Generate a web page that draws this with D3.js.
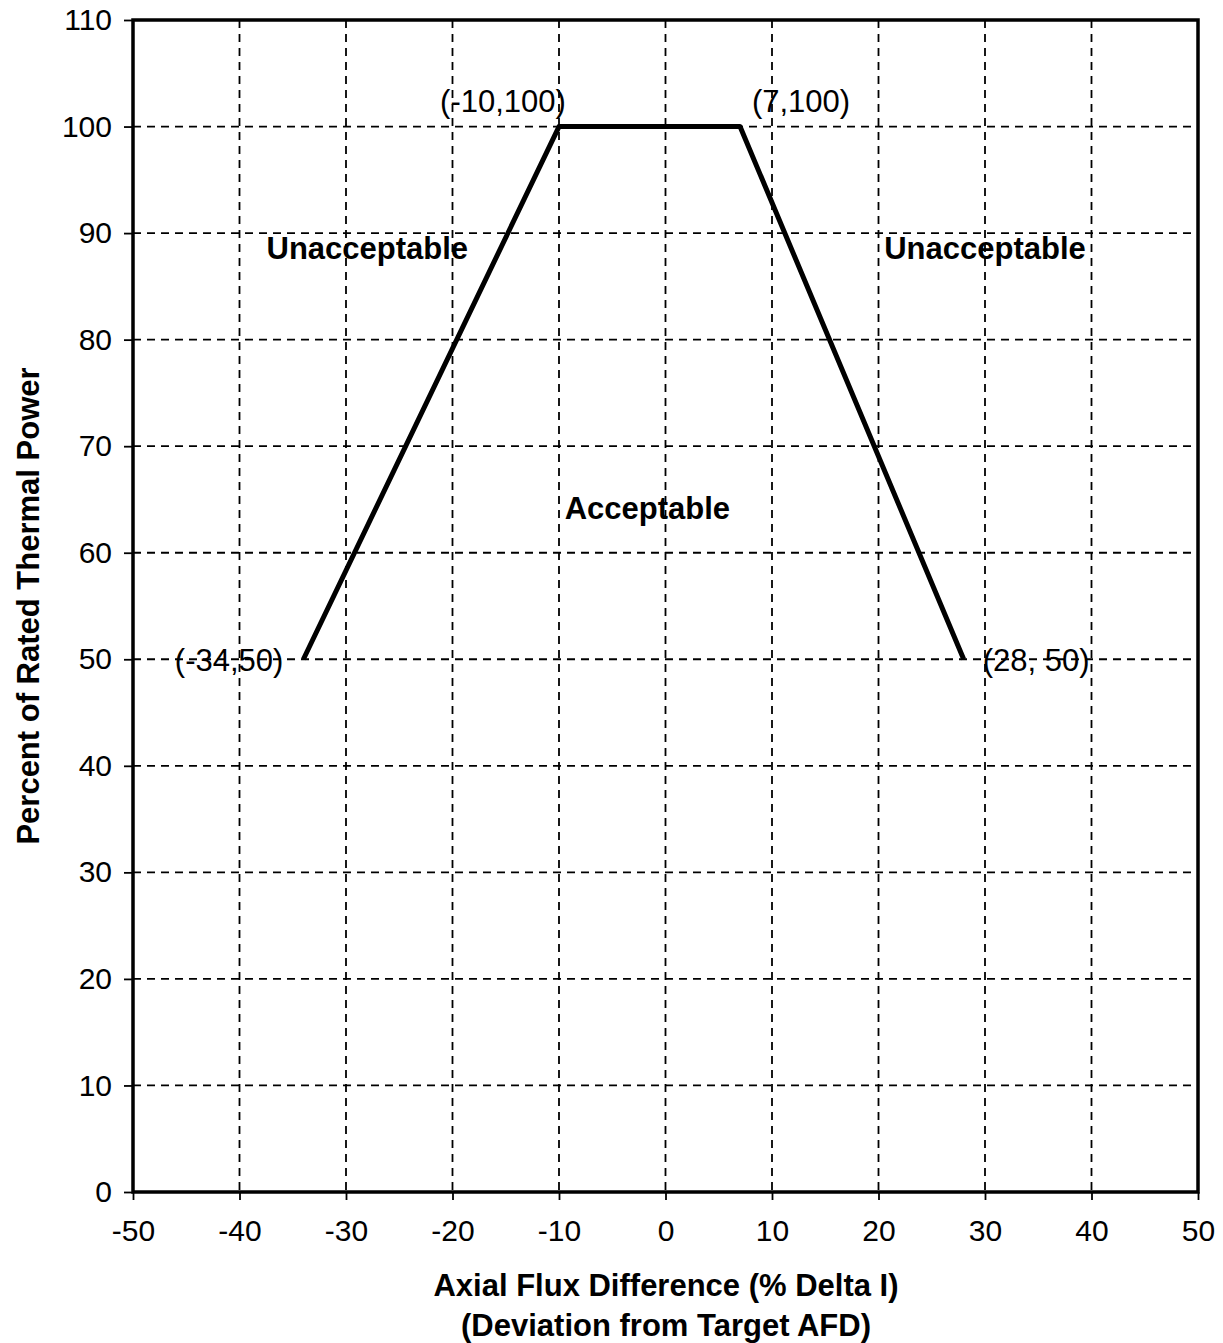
<!DOCTYPE html>
<html><head><meta charset="utf-8">
<script src="https://cdn.jsdelivr.net/npm/d3@7"></script>
<style>body{margin:0;background:#fff}svg{display:block}text{font-family:"Liberation Sans",Arial,sans-serif;fill:#000}</style>
</head><body>
<script>
const xTicks = [-50,-40,-30,-20,-10,0,10,20,30,40,50];
const yTicks = [0,10,20,30,40,50,60,70,80,90,100,110];
const limitX = [-34,-10,7,28];
const limitY = [50,100,100,50];
const pointLabels = ["(-34,50)","(-10,100)","(7,100)","(28, 50)"];
const regionNames = ["Unacceptable","Unacceptable","Acceptable"];
const regionX = [-28,30,-1.7];
const regionY = [87.6,87.6,63.2];

const W=1223,H=1343;
const m={l:133,r:1198,t:20,b:1192};
const svg=d3.select("body").append("svg").attr("width",W).attr("height",H);
const x=d3.scaleLinear().domain([-50,50]).range([m.l,m.r]);
const y=d3.scaleLinear().domain([0,110]).range([m.b,m.t]);

// grid
const g=svg.append("g");
g.selectAll(".gx").data(xTicks.filter(d=>d>-50&&d<50)).join("line")
 .attr("x1",d=>x(d)).attr("x2",d=>x(d)).attr("y1",m.t).attr("y2",m.b)
 .attr("stroke","#000").attr("stroke-width",1.8).attr("stroke-dasharray","8,6");
g.selectAll(".gy").data(yTicks.filter(d=>d>0&&d<110)).join("line")
 .attr("y1",d=>y(d)).attr("y2",d=>y(d)).attr("x1",m.l).attr("x2",m.r)
 .attr("stroke","#000").attr("stroke-width",1.8).attr("stroke-dasharray","8,6");

// axes
const ax=svg.append("g").attr("transform",`translate(0,${m.b})`)
 .call(d3.axisBottom(x).tickValues(xTicks).tickSize(8).tickPadding(20).tickFormat(d=>String(d)));
const ay=svg.append("g").attr("transform",`translate(${m.l},0)`)
 .call(d3.axisLeft(y).tickValues(yTicks).tickSize(9).tickPadding(12).tickFormat(d=>String(d)));
[ax,ay].forEach(a=>{a.select(".domain").remove();a.selectAll("line").attr("stroke","#000").attr("stroke-width",1.8);
 a.selectAll("text").attr("font-size",30).attr("font-family",'"Liberation Sans",Arial,sans-serif').attr("fill","#000");});
ax.selectAll("text").attr("dy","0.71em");

// frame
svg.append("rect").attr("x",m.l).attr("y",m.t).attr("width",m.r-m.l).attr("height",m.b-m.t)
 .attr("fill","none").attr("stroke","#000").attr("stroke-width",3.5);

// limit line
const pts=limitX.map((d,i)=>[d,limitY[i]]);
svg.append("path").attr("d",d3.line().x(d=>x(d[0])).y(d=>y(d[1]))(pts))
 .attr("fill","none").attr("stroke","#000").attr("stroke-width",5).attr("stroke-linejoin","round");

// point labels
const lblOff=[[-20,12,"end"],[-56,-15,"middle"],[61,-15,"middle"],[19,12,"start"]];
svg.selectAll(".pl").data(pts).join("text")
 .attr("x",(d,i)=>x(d[0])+lblOff[i][0]).attr("y",(d,i)=>y(d[1])+lblOff[i][1])
 .attr("text-anchor",(d,i)=>lblOff[i][2]).attr("font-size",31).text((d,i)=>pointLabels[i]);

// region labels
svg.selectAll(".rl").data(regionNames).join("text")
 .attr("x",(d,i)=>x(regionX[i])).attr("y",(d,i)=>y(regionY[i])).attr("text-anchor","middle")
 .attr("font-size",31).attr("font-weight","bold").text(d=>d);

// axis titles
svg.append("text").attr("x",666).attr("y",1296).attr("text-anchor","middle").attr("font-size",31).attr("font-weight","bold").text("Axial Flux Difference (% Delta I)");
svg.append("text").attr("x",666).attr("y",1336).attr("text-anchor","middle").attr("font-size",31).attr("font-weight","bold").text("(Deviation from Target AFD)");
svg.append("text").attr("transform",`translate(39,${y(55)}) rotate(-90)`).attr("text-anchor","middle").attr("font-size",31).attr("font-weight","bold").text("Percent of Rated Thermal Power");
</script>
</body></html>
